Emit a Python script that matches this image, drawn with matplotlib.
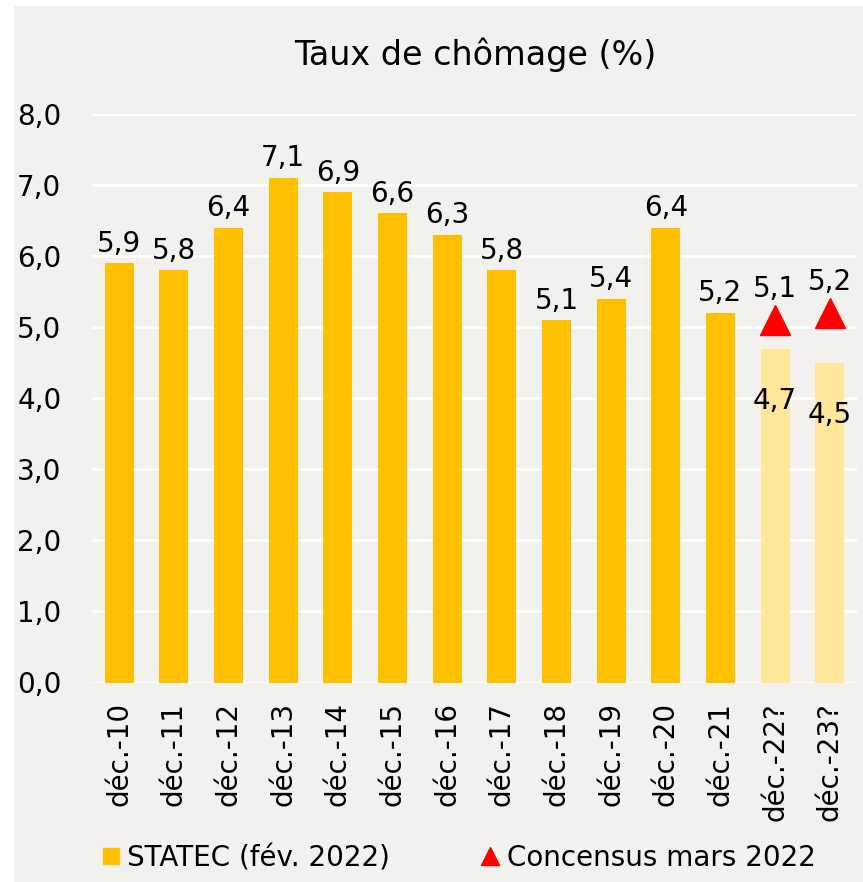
import matplotlib.pyplot as plt
from matplotlib.lines import Line2D
from matplotlib.patches import Rectangle

# Data
categories = ['déc.-10', 'déc.-11', 'déc.-12', 'déc.-13', 'déc.-14', 'déc.-15', 'déc.-16',
              'déc.-17', 'déc.-18', 'déc.-19', 'déc.-20', 'déc.-21', 'déc.-22?', 'déc.-23?']
statec = [5.9, 5.8, 6.4, 7.1, 6.9, 6.6, 6.3, 5.8, 5.1, 5.4, 6.4, 5.2, 4.7, 4.5]
statec_labels = ['5,9', '5,8', '6,4', '7,1', '6,9', '6,6', '6,3', '5,8', '5,1', '5,4', '6,4', '5,2', '4,7', '4,5']
consensus_idx = [12, 13]
consensus = [5.1, 5.2]
consensus_labels = ['5,1', '5,2']
yticks = [0, 1, 2, 3, 4, 5, 6, 7, 8]
ytick_labels = ['0,0', '1,0', '2,0', '3,0', '4,0', '5,0', '6,0', '7,0', '8,0']

plt.rcParams['font.family'] = ['DejaVu Sans']

bg = '#F2F1ED'
dark = '#FFC000'
light = '#FFE699'

fig = plt.figure(figsize=(8.63, 8.82), dpi=100, facecolor='white')
fig.patches.append(Rectangle((14 / 863, 0), 1, 1 - 6 / 882, transform=fig.transFigure,
                             facecolor=bg, edgecolor='none', zorder=-10))
ax = fig.add_axes([92 / 863, 1 - 682.5 / 882, 765 / 863, 568.5 / 882])
ax.set_facecolor(bg)

x = list(range(len(categories)))
colors = [dark] * 12 + [light] * 2
ax.bar(x, statec, width=0.53, color=colors, zorder=3)

# value labels
for i, (v, lab) in enumerate(zip(statec, statec_labels)):
    if i < 12:
        ax.annotate(lab, (i, v), xytext=(0, 4), textcoords='offset points',
                    ha='center', va='bottom', fontsize=20)
    else:
        ax.annotate(lab, (i, v), xytext=(0, -38), textcoords='offset points',
                    ha='center', va='center', fontsize=20)

# consensus triangles
ax.plot(consensus_idx, consensus, linestyle='none', marker='^', markersize=22,
        color='#FF0000', zorder=4)
for i, v, lab in zip(consensus_idx, consensus, consensus_labels):
    ax.annotate(lab, (i, v), xytext=(0, 12), textcoords='offset points',
                ha='center', va='bottom', fontsize=20)

ax.set_xlim(-0.5, 13.5)
ax.set_ylim(0, 8)
ax.set_yticks(yticks)
ax.set_yticklabels(ytick_labels, fontsize=20)
ax.set_xticks(x)
ax.set_xticklabels(categories, rotation=90, fontsize=20)
ax.tick_params(axis='both', length=0)
ax.tick_params(axis='y', pad=22)
ax.tick_params(axis='x', pad=14)
ax.grid(axis='y', color='white', linewidth=2, zorder=0)
for s in ax.spines.values():
    s.set_visible(False)

fig.text(0.551, 1 - 55 / 882, 'Taux de chômage (%)', ha='center', va='center', fontsize=24)

# Legend
handles = [
    Line2D([], [], linestyle='none', marker='s', markersize=12, color=dark),
    Line2D([], [], linestyle='none', marker='^', markersize=13, color='#FF0000'),
]
fig.legend(handles, ['STATEC (fév. 2022)', 'Concensus mars 2022'], loc='center',
           bbox_to_anchor=(0.532, 1 - 858 / 882), ncol=2, frameon=False, fontsize=20,
           handlelength=0.6, handletextpad=0.3, columnspacing=3.3)

fig.savefig('out.png', dpi=100, facecolor='white')
